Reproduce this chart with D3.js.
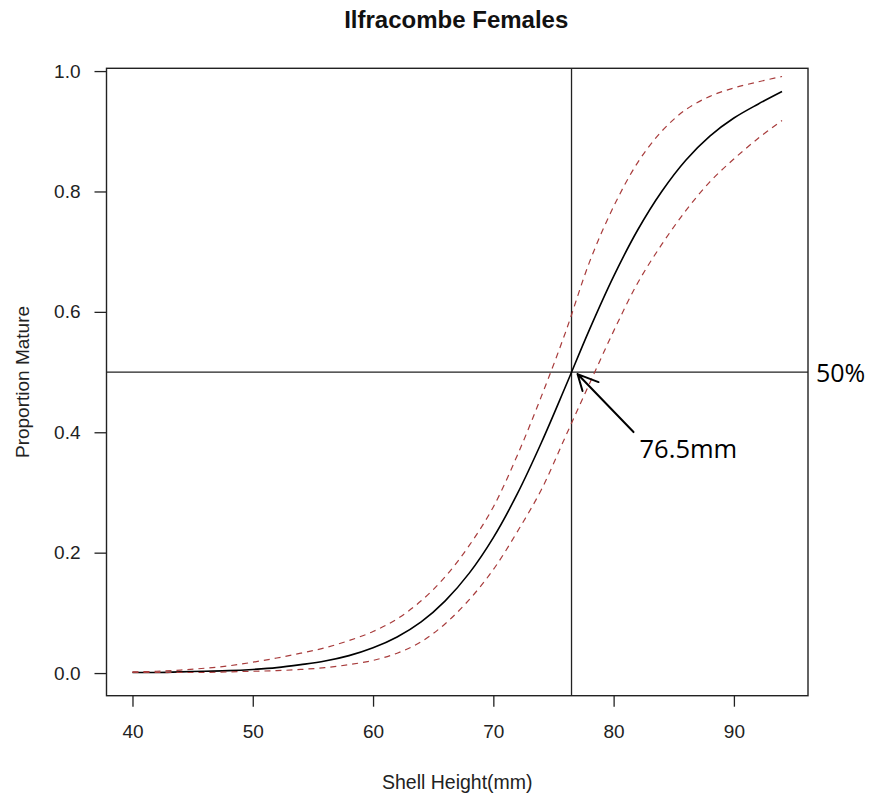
<!DOCTYPE html>
<html>
<head>
<meta charset="utf-8">
<script src="https://cdn.jsdelivr.net/npm/d3@7"></script>
<style>
  body { margin: 0; background: #fff; }
  svg { display: block; font-family: "Liberation Sans", Arial, sans-serif; }
</style>
</head>
<body>
<div id="chart"></div>
<script>
// Shell height (mm) at which the fitted curve and its 95% band were read
const shellHeight = [40, 42, 44, 46, 48, 50, 52, 54, 56, 58, 60, 62, 64, 66,
                     68, 70, 72, 74, 76, 78, 80, 82, 84, 86, 88, 90, 92, 94];
const fitted = [0.001, 0.001, 0.002, 0.003, 0.004, 0.006, 0.009, 0.014, 0.020, 0.029,
                0.042, 0.060, 0.085, 0.120, 0.166, 0.225, 0.298, 0.383, 0.476, 0.571,
                0.659, 0.736, 0.800, 0.852, 0.892, 0.922, 0.945, 0.966];
const upper = [0.002, 0.003, 0.005, 0.008, 0.012, 0.018, 0.025, 0.033, 0.042, 0.054,
               0.069, 0.090, 0.120, 0.160, 0.212, 0.276, 0.362, 0.460, 0.566, 0.683,
               0.775, 0.848, 0.900, 0.936, 0.958, 0.972, 0.982, 0.991];
const lower = [0.001, 0.001, 0.001, 0.001, 0.002, 0.003, 0.004, 0.006, 0.009, 0.014,
               0.021, 0.033, 0.052, 0.082, 0.122, 0.172, 0.235, 0.305, 0.393, 0.481,
               0.568, 0.648, 0.712, 0.768, 0.816, 0.854, 0.888, 0.918];
const xTicks = [40, 50, 60, 70, 80, 90];
const yTicks = [0, 0.2, 0.4, 0.6, 0.8, 1.0];
const l50 = 76.5;      // size at 50% maturity
const half = 0.5;

const W = 873, H = 800;
const margin = { top: 68.3, right: 65, bottom: 104.3, left: 106.5 };
const width = W - margin.left - margin.right;
const height = H - margin.top - margin.bottom;

// R style axis limits: data range plus 4% on each side
const pad = ([a, b]) => [a - (b - a) * 0.04, b + (b - a) * 0.04];

const x = d3.scaleLinear()
    .domain(pad(d3.extent(shellHeight)))
    .range([0, width]);

const y = d3.scaleLinear()
    .domain(pad(d3.extent(fitted)))
    .range([height, 0]);

const svg = d3.select("#chart")
    .append("svg")
    .attr("width", W)
    .attr("height", H);

svg.append("text")
    .attr("x", margin.left + width / 2 - 1)
    .attr("y", 28)
    .attr("text-anchor", "middle")
    .attr("font-size", 24)
    .attr("font-weight", "bold")
    .attr("fill", "#111")
    .text("Ilfracombe Females");

const g = svg.append("g")
    .attr("transform", `translate(${margin.left},${margin.top})`);

const line = series => d3.line()
    .x((d, i) => x(shellHeight[i]))
    .y(d => y(d))
    .curve(d3.curveCatmullRom)(series);

// reference lines at 50% and L50
g.append("line")
    .attr("x1", 0).attr("x2", width)
    .attr("y1", y(half)).attr("y2", y(half))
    .attr("stroke", "#222").attr("stroke-width", 1.3);

g.append("line")
    .attr("x1", x(l50)).attr("x2", x(l50))
    .attr("y1", 0).attr("y2", height)
    .attr("stroke", "#222").attr("stroke-width", 1.3);

g.append("path")
    .attr("d", line(fitted))
    .attr("fill", "none")
    .attr("stroke", "#000")
    .attr("stroke-width", 1.6);

[upper, lower].forEach(s => {
    g.append("path")
        .attr("d", line(s))
        .attr("fill", "none")
        .attr("stroke", "#a83c3c")
        .attr("stroke-width", 1.2)
        .attr("stroke-dasharray", "6,5");
});

// axes
const xAxis = g.append("g")
    .attr("transform", `translate(0,${height})`)
    .call(d3.axisBottom(x).tickValues(xTicks).tickSize(11).tickPadding(18));

const yAxis = g.append("g")
    .call(d3.axisLeft(y).tickValues(yTicks).tickFormat(d3.format(".1f"))
        .tickSize(12).tickPadding(14));

[xAxis, yAxis].forEach(a => {
    a.select(".domain").remove();
    a.selectAll(".tick line").attr("stroke", "#222").attr("stroke-width", 1.3);
    a.selectAll(".tick text")
        .attr("font-size", 19)
        .attr("fill", "#222")
        .attr("font-family", "Liberation Sans, Arial, sans-serif");
});

g.append("rect")
    .attr("width", width)
    .attr("height", height)
    .attr("fill", "none")
    .attr("stroke", "#222")
    .attr("stroke-width", 1.4);

svg.append("text")
    .attr("x", margin.left + width / 2)
    .attr("y", 789)
    .attr("text-anchor", "middle")
    .attr("font-size", 19.5)
    .attr("fill", "#222")
    .text("Shell Height(mm)");

svg.append("text")
    .attr("transform", `translate(29,${margin.top + height / 2}) rotate(-90)`)
    .attr("text-anchor", "middle")
    .attr("font-size", 19)
    .attr("fill", "#222")
    .text("Proportion Mature");

// annotations
svg.append("text")
    .attr("x", margin.left + width + 8)
    .attr("y", margin.top + y(half) + 10)
    .attr("font-family", "Open Sans, sans-serif")
    .attr("font-size", 25)
    .attr("fill", "#000")
    .text("50%");

const tipX = margin.left + x(l50) + 6;
const tipY = margin.top + y(half) + 2;

svg.append("path")
    .attr("d", `M${tipX + 56},${tipY + 58}L${tipX},${tipY}` +
               `M${tipX + 21},${tipY + 8}L${tipX},${tipY}L${tipX + 5},${tipY + 17}`)
    .attr("fill", "none")
    .attr("stroke", "#000")
    .attr("stroke-width", 2)
    .attr("stroke-linecap", "round")
    .attr("stroke-linejoin", "round");

svg.append("text")
    .attr("x", tipX + 62)
    .attr("y", tipY + 84)
    .attr("font-family", "Open Sans, sans-serif")
    .attr("font-size", 25.5)
    .attr("fill", "#000")
    .text("76.5mm");
</script>
</body>
</html>
